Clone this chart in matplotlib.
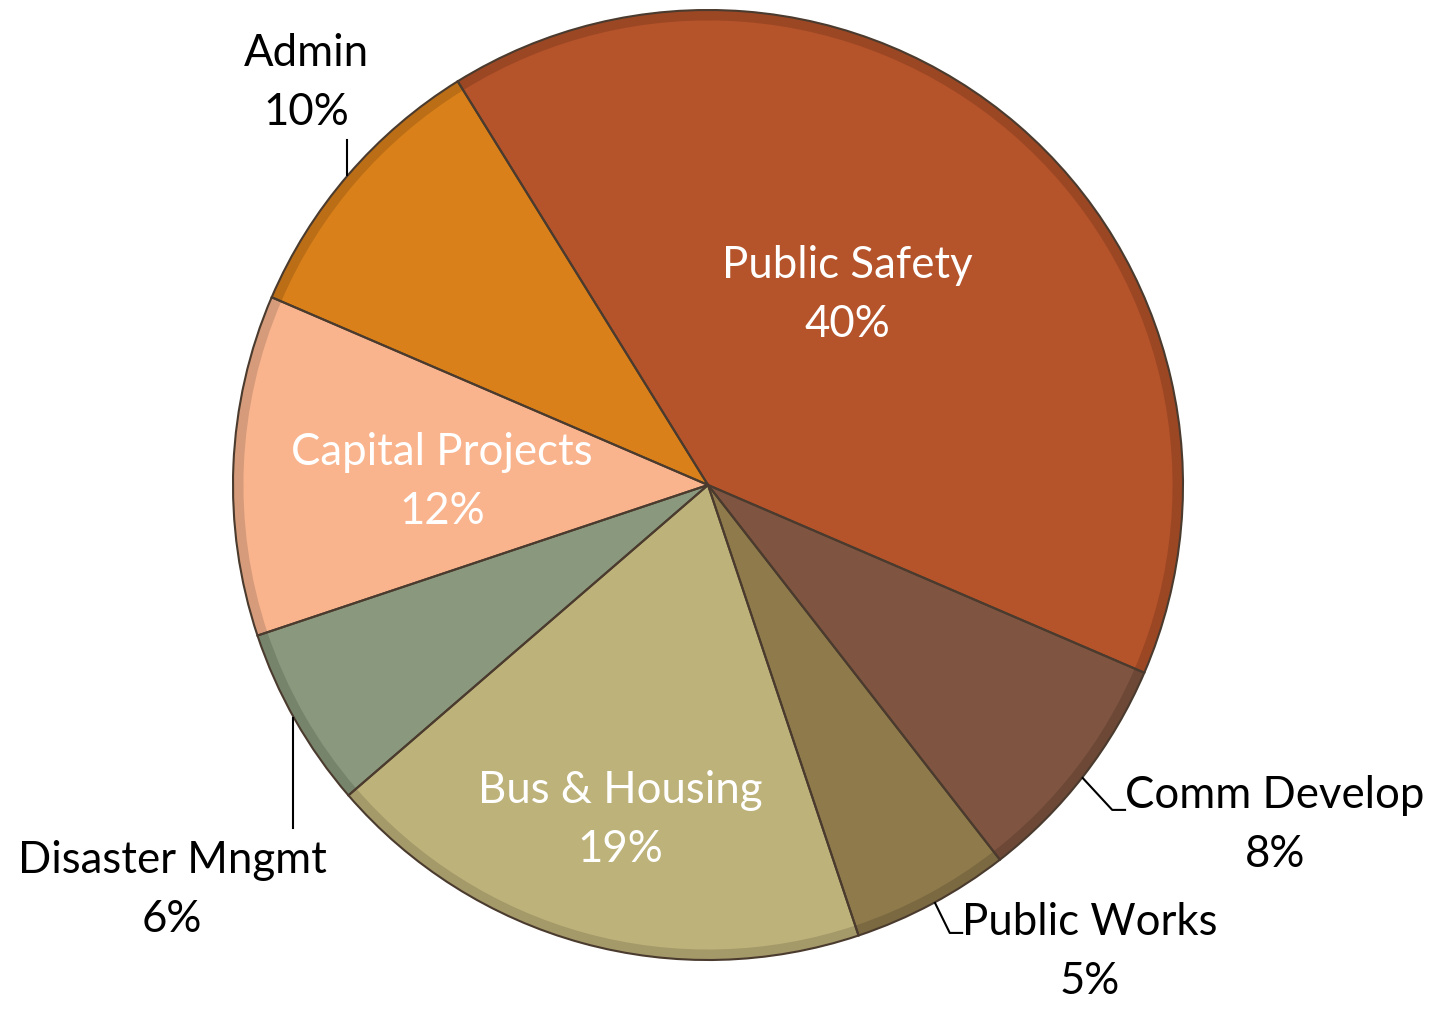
import matplotlib.pyplot as plt
import matplotlib.colors as mcolors

# shares (labels show rounded %)
categories = ["Public Safety", "Comm Develop", "Public Works", "Bus & Housing",
              "Disaster Mngmt", "Capital Projects", "Admin"]
shares = [40.3, 8.0, 5.4, 18.8, 6.2, 11.6, 9.7]
colors = ["#B5532A", "#7F5440", "#8F7A4B", "#BDB27A", "#8A997E", "#F9B48E", "#D9801A"]

# label layout: (x, y, colour) in pie data units
label_pos = {
    "Public Safety": (0.293, 0.400, "white"),
    "Comm Develop": (1.194, -0.716, "black"),
    "Public Works": (0.804, -0.983, "black"),
    "Bus & Housing": (-0.185, -0.705, "white"),
    "Disaster Mngmt": (-1.128, -0.853, "black"),
    "Capital Projects": (-0.560, 0.006, "white"),
    "Admin": (-0.846, 0.846, "black"),
}
leaders = [
    [(-0.760, 0.726), (-0.760, 0.653)],
    [(0.789, -0.617), (0.851, -0.684), (0.878, -0.684)],
    [(0.478, -0.880), (0.509, -0.943), (0.535, -0.943)],
    [(-0.874, -0.491), (-0.874, -0.722)],
]


def shade(c, f):
    r, g, b = mcolors.to_rgb(c)
    return (r * f, g * f, b * f)


plt.rcParams["font.family"] = ["Lato", "DejaVu Sans"]

fig = plt.figure(figsize=(14.35, 10.09), dpi=100)
ax = fig.add_axes([233 / 1435, 49 / 1009, 950 / 1435, 950 / 1009])

pie_kw = dict(startangle=121.8, counterclock=False, radius=1.0)
ax.pie(shares, colors=colors, wedgeprops=dict(linewidth=0), **pie_kw)
# soft darker bevel rim
ax.pie(shares, colors=[shade(c, 0.86) for c in colors],
       wedgeprops=dict(width=0.022, linewidth=0), **pie_kw)
# slice outlines on top
ax.pie(shares, colors=["none"] * len(shares),
       wedgeprops=dict(edgecolor="#4a3b2e", linewidth=1.5), **pie_kw)

ax.set_xlim(-1, 1)
ax.set_ylim(-1, 1)
ax.set_aspect("equal")
ax.axis("off")

for name, share in zip(categories, shares):
    x, y, col = label_pos[name]
    ax.text(x, y, f"{name}\n{round(share)}%", color=col, fontsize=31.5,
            ha="center", va="center", linespacing=1.55, clip_on=False)

for pts in leaders:
    xs, ys = zip(*pts)
    ax.plot(xs, ys, color="black", lw=1.5, clip_on=False)

fig.savefig("out.png", dpi=100)
